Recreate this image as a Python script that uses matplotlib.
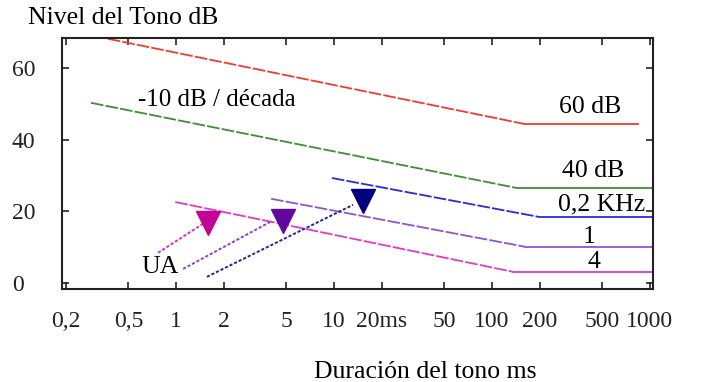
import matplotlib
matplotlib.use("Agg")
import matplotlib.pyplot as plt

plt.rcParams['font.family'] = ['Liberation Serif', 'DejaVu Serif']

# ---------------- data ----------------
x_ticks = [0.2, 0.5, 1, 2, 5, 10, 20, 50, 100, 200, 500, 1000]
x_tick_labels = ['0,2', '0,5', '1', '2', '5', '10', '20ms', '50', '100', '200', '500', '1000']
y_ticks = [0, 20, 40, 60]
y_tick_labels = ['0', '20', '40', '60']

# tone-level curves: start of sloped part, knee, end of flat part
curve_names = ['60 dB', '40 dB', '0,2 KHz', '1', '4']
curve_x = [[0.37, 160, 840],
           [0.29, 144, 1045],
           [9.7, 200, 1045],
           [4.0, 162, 1045],
           [0.99, 136, 1045]]
curve_y = [[68.2, 44.4, 44.4],
           [50.3, 26.5, 26.5],
           [29.3, 18.4, 18.4],
           [23.5, 10.1, 10.1],
           [22.6, 3.1, 3.1]]

# UA (rising dotted) lines and triangle markers
ua_x = [[0.77, 1.9], [1.11, 4.05], [1.57, 13.2]]
ua_y = [[8.4, 19.6], [3.9, 17.3], [1.7, 21.8]]
marker_x = [1.6, 4.76, 15.3]
marker_y = [16.8, 17.3, 22.9]

# ---------------- style ----------------
curve_colors = ['#f23a2e', '#3f8f35', '#2b2bd8', '#8d55d0', '#e03cc0']
ua_colors = ['#e02ac4', '#8442d2', '#22229e']
marker_colors = ['#c40494', '#62089e', '#00007e']

fig = plt.figure(figsize=(7.02, 3.82), dpi=100)
ax = fig.add_axes([62 / 702, 1 - 289 / 382, (653 - 62) / 702, (289 - 38) / 382])
ax.set_xscale('log')
ax.set_xlim(0.19, 1045)
ax.set_ylim(-1.7, 68.4)

for xs, ys, c in zip(curve_x, curve_y, curve_colors):
    ax.plot(xs[:2], ys[:2], color=c, lw=1.3, dashes=(7, 1.2), solid_capstyle='butt')
    ax.plot(xs[1:], ys[1:], color=c, lw=1.3)

for xs, ys, c in zip(ua_x, ua_y, ua_colors):
    ax.plot(xs, ys, color=c, lw=1.4, dashes=(1.6, 1.0))

for x, y, c in zip(marker_x, marker_y, marker_colors):
    ax.plot([x], [y], marker='v', ms=17, color=c, mec=c, ls='none')

fs = 17
fs_txt = 18.5
ax.text(0.575, 51.1, '-10 dB / década', fontsize=18, ha='left', va='center')
label_pos = [(417, 49.2), (436, 31.3), (497, 21.8), (411, 12.8), (442, 5.9)]
for name, (tx, ty) in zip(curve_names, label_pos):
    ax.text(tx, ty, name, fontsize=fs_txt, ha='center', va='center')
ax.text(0.79, 4.5, 'UA', fontsize=fs_txt, ha='center', va='center')

ax.set_xticks(x_ticks)
ax.set_xticklabels(x_tick_labels, fontsize=fs)
ax.minorticks_off()
ax.set_yticks(y_ticks)
ax.set_yticklabels(y_tick_labels, fontsize=fs)
ax.tick_params(axis='both', which='both', direction='in', length=5, width=1.2,
               top=True, right=True, colors='#222222')
ax.tick_params(axis='x', pad=16)
ax.tick_params(axis='y', pad=36)
for lab in ax.get_yticklabels():
    lab.set_horizontalalignment('left')

for sp in ax.spines.values():
    sp.set_linewidth(1.5)
    sp.set_color('#222222')

fig.text(28 / 702, 1 - 18 / 382, 'Nivel del Tono dB', fontsize=fs_txt, ha='left', va='center')
fig.text(425 / 702, 1 - 372 / 382, 'Duración del tono ms', fontsize=fs_txt, ha='center', va='center')

fig.savefig('out.png', dpi=100)
